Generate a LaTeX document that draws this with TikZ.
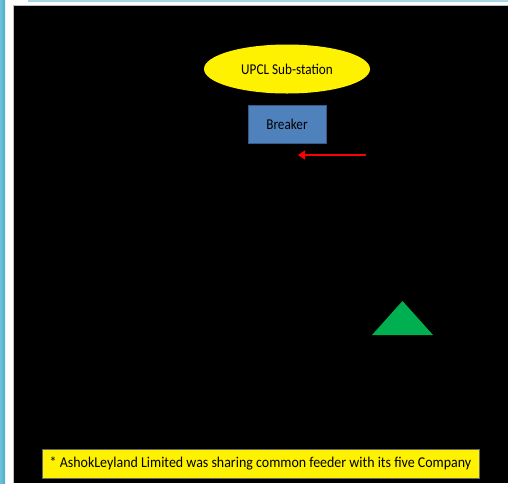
\documentclass[tikz,border=0pt]{standalone}
\usepackage{fontspec}
\usepackage{graphicx}
\setmainfont{Carlito}
\usetikzlibrary{shapes.geometric,arrows.meta}
\definecolor{stripblue}{HTML}{4BAFCB}
\definecolor{topblue}{HTML}{A8D8E6}
\definecolor{boxblue}{HTML}{4F81BD}
\definecolor{tgreen}{HTML}{00B050}
\newcommand{\narrowtxt}[2]{\scalebox{#1}[1]{#2}}
\tikzset{
  ell/.style={ellipse, fill=yellow, minimum width=166pt, minimum height=49pt, inner sep=0pt, font=\fontsize{15}{17}\selectfont},
  brk/.style={rectangle, fill=boxblue, draw=boxblue!70!black, line width=0.4pt, minimum width=78pt, minimum height=38pt, inner sep=0pt, font=\fontsize{15}{17}\selectfont},
  note/.style={rectangle, fill=yellow, draw=black!60, line width=0.5pt, minimum width=437pt, minimum height=29pt, inner sep=0pt, font=\fontsize{15}{17}\selectfont},
}
\begin{document}
\begin{tikzpicture}[x=1pt,y=-1pt]
\useasboundingbox (0,0) rectangle (508,483);
\fill[white] (0,0) rectangle (508,483);
\shade[left color=stripblue!80, right color=stripblue] (0,0) rectangle (5,483);
\fill[topblue] (28,0) rectangle (508,1.5);
\fill[black!25] (13,5) rectangle (508,483);
\fill[black] (14,6) rectangle (508,483);
\node[ell] (sub) at (287,69) {\narrowtxt{0.88}{UPCL Sub-station}};
\node[brk] (brk) at (287,124) {\narrowtxt{0.88}{Breaker}};
\coordinate (arS) at (366,155);
\coordinate (arE) at (298,155);
\draw[red, line width=1.6pt, -{Stealth[length=7pt,width=9pt,inset=0pt]}] (arS) -- (arE);
\fill[tgreen] (372,335) -- (402.5,301) -- (433,335) -- cycle;
\node[note] (nt) at (260.5,463.5) {\narrowtxt{0.93}{* AshokLeyland Limited was sharing common feeder with its five Company}};
\end{tikzpicture}
\end{document}
